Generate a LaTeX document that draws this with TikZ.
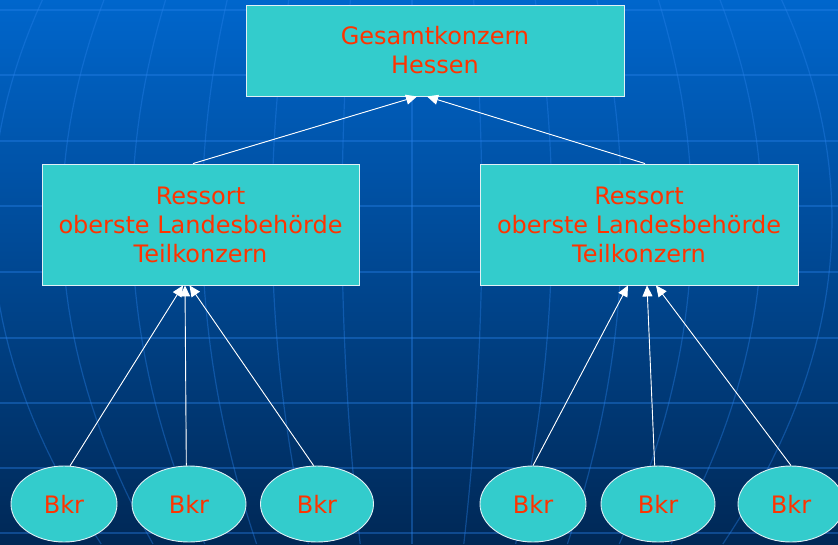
\documentclass[tikz,border=0pt]{standalone}
\usepackage{fontspec}
\setmainfont{DejaVu Sans}
\usetikzlibrary{shapes.geometric,arrows.meta,calc}
\definecolor{bgtop}{RGB}{0,102,204}
\definecolor{bgbot}{RGB}{0,40,86}
\definecolor{gridc}{RGB}{40,130,235}
\definecolor{boxfill}{RGB}{51,204,204}
\definecolor{txt}{RGB}{255,51,0}
\definecolor{edge}{RGB}{225,240,245}
\tikzset{
  gridline/.style={draw=gridc, line width=1.2pt, opacity=0.38},
  orgbox/.style={rectangle, fill=boxfill, draw=edge, line width=0.9pt, inner sep=0pt,
    text=txt, align=center, font=\fontsize{24}{29}\selectfont},
  bkr/.style={ellipse, fill=boxfill, draw=edge, line width=0.9pt, inner sep=0pt,
    minimum height=76pt, text=txt, font=\fontsize{24}{29}\selectfont},
  link/.style={draw=white, line width=0.9pt, -{Triangle[length=11pt,width=10pt]}, fill=white}
}
\begin{document}
\begin{tikzpicture}[x=1pt,y=-1pt]
\clip (0,0) rectangle (838,544);
\shade[top color=bgtop, bottom color=bgbot] (0,0) rectangle (838,544);
% horizontal grid lines
\foreach \yy in {10,75,141,206,272,338,403,468,533}
  \draw[gridline] (0,\yy) -- (838,\yy);
% curved meridians
\foreach \k in {-6,...,6}
  \draw[gridline] plot[domain=0:544, samples=40, variable=\t]
    ({412 + 70*\k*(1-0.26*((\t-220)/324)^2)}, {\t});
% nodes
\node[orgbox, minimum width=378pt, minimum height=91pt] (T) at (435,50.5) {Gesamtkonzern\\Hessen};
\node[orgbox, minimum width=317pt, minimum height=121pt] (L) at (200.5,224.5) {Ressort\\oberste Landesbehörde\\Teilkonzern};
\node[orgbox, minimum width=318pt, minimum height=121pt] (R) at (639,224.5) {Ressort\\oberste Landesbehörde\\Teilkonzern};
\node[bkr, minimum width=106pt] (e1) at (64,504) {Bkr};
\node[bkr, minimum width=114pt] (e2) at (189,504) {Bkr};
\node[bkr, minimum width=113pt] (e3) at (317,504) {Bkr};
\node[bkr, minimum width=106pt] (e4) at (533,504) {Bkr};
\node[bkr, minimum width=114pt] (e5) at (658,504) {Bkr};
\node[bkr, minimum width=106pt] (e6) at (791,504) {Bkr};
% connectors
\draw[link] ($(L.north)+(-7.5,0)$) -- ($(T.south)+(-18,0)$);
\draw[link] ($(R.north)+(6,0)$) -- ($(T.south)+(-8,0)$);
\draw[link] (e1.81) -- ($(L.south)+(-17.5,0)$);
\draw[link] (e2.94) -- ($(L.south)+(-15.5,0)$);
\draw[link] (e3.95) -- ($(L.south)+(-11,0)$);
\draw[link] (e4.north) -- ($(R.south)+(-11,0)$);
\draw[link] (e5.95) -- ($(R.south)+(8,0)$);
\draw[link] (e6.north) -- ($(R.south)+(17,0)$);
\end{tikzpicture}
\end{document}
